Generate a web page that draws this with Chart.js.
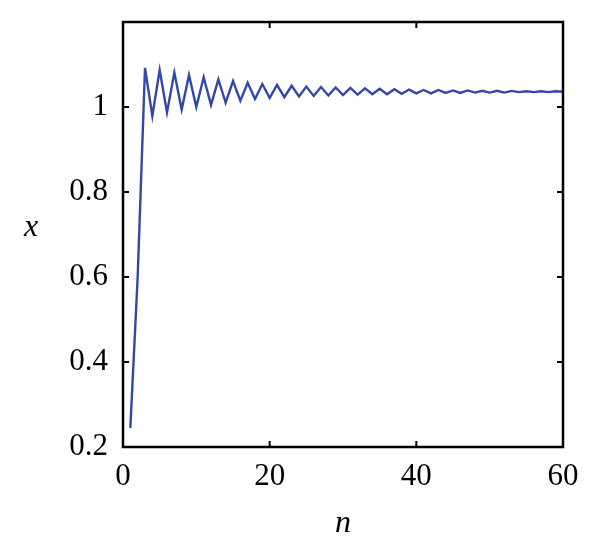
<!DOCTYPE html>
<html>
<head>
<meta charset="utf-8">
<script src="https://cdn.jsdelivr.net/npm/chart.js@4/dist/chart.umd.min.js"></script>
<style>
  html, body { margin: 0; padding: 0; background: #fff; }
  #wrap { width: 600px; height: 554px; }
</style>
</head>
<body>
<div id="wrap"><canvas id="grafico" width="600" height="554"></canvas></div>
<script>
// iteration index and value x_n
const pasos = [1, 2, 3, 4, 5, 6, 7, 8, 9, 10, 11, 12, 13, 14, 15, 16, 17, 18, 19, 20,
  21, 22, 23, 24, 25, 26, 27, 28, 29, 30, 31, 32, 33, 34, 35, 36, 37, 38, 39, 40,
  41, 42, 43, 44, 45, 46, 47, 48, 49, 50, 51, 52, 53, 54, 55, 56, 57, 58, 59, 60];
const valores = [0.245, 0.60, 1.092, 0.979, 1.087, 0.987, 1.081, 0.994, 1.075, 1.000,
  1.070, 1.005, 1.065, 1.010, 1.061, 1.015, 1.057, 1.019, 1.054, 1.021,
  1.052, 1.023, 1.050, 1.025, 1.048, 1.026, 1.047, 1.027, 1.046, 1.028,
  1.045, 1.029, 1.044, 1.030, 1.043, 1.030, 1.042, 1.031, 1.041, 1.032,
  1.040, 1.032, 1.040, 1.033, 1.039, 1.033, 1.039, 1.034, 1.038, 1.034,
  1.038, 1.034, 1.038, 1.035, 1.037, 1.035, 1.037, 1.035, 1.037, 1.036];
const ticksX = [0, 20, 40, 60];
const ticksY = [0.2, 0.4, 0.6, 0.8, 1];

const fuente = "'Times New Roman', 'Liberation Serif', Tinos, serif";
const azul = "rgb(50, 72, 168)";

// frame, inward ticks on all four sides, and the upright italic y label
const marco = {
  id: "marco",
  afterDraw(chart) {
    const { ctx, chartArea: a, scales } = chart;
    const largo = 6;
    ctx.save();
    ctx.strokeStyle = "#000";
    ctx.lineWidth = 2.5;
    ctx.strokeRect(a.left, a.top, a.right - a.left, a.bottom - a.top);
    ctx.lineWidth = 2;
    ctx.beginPath();
    ticksX.forEach((v) => {
      const px = scales.x.getPixelForValue(v);
      ctx.moveTo(px, a.bottom); ctx.lineTo(px, a.bottom - largo);
      ctx.moveTo(px, a.top); ctx.lineTo(px, a.top + largo);
    });
    ticksY.forEach((v) => {
      const py = scales.y.getPixelForValue(v);
      ctx.moveTo(a.left, py); ctx.lineTo(a.left + largo, py);
      ctx.moveTo(a.right, py); ctx.lineTo(a.right - largo, py);
    });
    ctx.stroke();
    ctx.fillStyle = "#000";
    ctx.font = "italic 32px " + fuente;
    ctx.textAlign = "center";
    ctx.textBaseline = "middle";
    ctx.fillText("x", 31, 228);
    ctx.restore();
  },
};

new Chart(document.getElementById("grafico"), {
  type: "line",
  data: {
    datasets: [
      {
        data: pasos.map((n, i) => ({ x: n, y: valores[i] })),
        borderColor: azul,
        borderWidth: 2.4,
        pointRadius: 0,
        tension: 0,
      },
    ],
  },
  options: {
    responsive: false,
    animation: false,
    layout: { padding: { top: 22, right: 37, left: 0, bottom: 0 } },
    plugins: { legend: { display: false }, tooltip: { enabled: false } },
    scales: {
      x: {
        type: "linear",
        min: 0,
        max: 60,
        afterFit: (s) => { s.height = 107; s.paddingLeft = 0; s.paddingRight = 0; },
        afterBuildTicks: (s) => { s.ticks = ticksX.map((v) => ({ value: v })); },
        grid: { display: false, drawTicks: false },
        border: { display: false },
        ticks: { color: "#000", padding: 11, maxRotation: 0, font: { family: fuente, size: 31 } },
        title: { display: true, text: "n", color: "#000", padding: { top: 0, bottom: 11 }, font: { family: fuente, size: 32, style: "italic" } },
      },
      y: {
        min: 0.2,
        max: 1.2,
        afterFit: (s) => { s.width = 123; s.paddingTop = 0; s.paddingBottom = 0; },
        afterBuildTicks: (s) => { s.ticks = ticksY.map((v) => ({ value: v })); },
        grid: { display: false, drawTicks: false },
        border: { display: false },
        ticks: {
          color: "#000",
          padding: 15,
          font: { family: fuente, size: 31 },
          callback: (v) => String(Math.round(v * 10) / 10),
        },
      },
    },
  },
  plugins: [marco],
});
</script>
</body>
</html>
